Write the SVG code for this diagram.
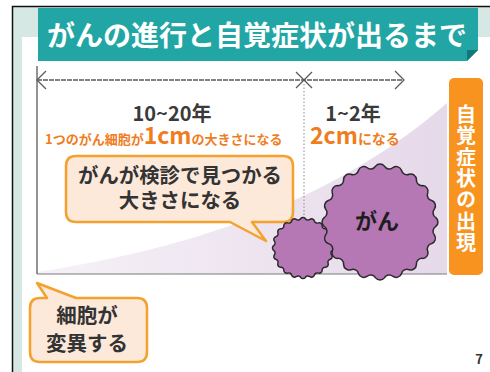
<svg xmlns="http://www.w3.org/2000/svg" xmlns:xlink="http://www.w3.org/1999/xlink" width="490" height="372" viewBox="0 0 490 372">
  <style>
    .jp { font-family: "Noto Sans CJK JP", "Noto Sans", sans-serif; }
    .dark { fill: #3a3a3a; font-weight: bold; }
    .orange { fill: #ef7d1e; font-weight: bold; }
    .callout { fill: #fde9da; stroke: #f4a12e; stroke-width: 2.5; stroke-linejoin: round; }
    .axis { fill: none; stroke: #5a5a5a; stroke-width: 1.3; }
    .blob { fill: #b677b5; stroke: #2a2a2a; }
    .vertical { writing-mode: vertical-rl; letter-spacing: 1.3px; }
  </style>
  <defs>
    <linearGradient id="growth" x1="37" y1="0" x2="447" y2="0" gradientUnits="userSpaceOnUse">
      <stop offset="0" stop-color="#f6f1f7"/>
      <stop offset="1" stop-color="#e6d9ea"/>
    </linearGradient>
    <!-- wavy cell outline, radius ~100 around the origin, 20 soft bumps -->
    <path id="cell" d="M99.39,-7.82
      A10 10 0 0 1 99.39,7.82 A10 10 0 0 0 96.94,23.27
      A10 10 0 0 1 92.10,38.15 A10 10 0 0 0 85.00,52.09
      A10 10 0 0 1 75.81,64.75 A10 10 0 0 0 64.75,75.81
      A10 10 0 0 1 52.09,85.00 A10 10 0 0 0 38.15,92.10
      A10 10 0 0 1 23.27,96.94 A10 10 0 0 0 7.82,99.39
      A10 10 0 0 1 -7.82,99.39 A10 10 0 0 0 -23.27,96.94
      A10 10 0 0 1 -38.15,92.10 A10 10 0 0 0 -52.09,85.00
      A10 10 0 0 1 -64.75,75.81 A10 10 0 0 0 -75.81,64.75
      A10 10 0 0 1 -85.00,52.09 A10 10 0 0 0 -92.10,38.15
      A10 10 0 0 1 -96.94,23.27 A10 10 0 0 0 -99.39,7.82
      A10 10 0 0 1 -99.39,-7.82 A10 10 0 0 0 -96.94,-23.27
      A10 10 0 0 1 -92.10,-38.15 A10 10 0 0 0 -85.00,-52.09
      A10 10 0 0 1 -75.81,-64.75 A10 10 0 0 0 -64.75,-75.81
      A10 10 0 0 1 -52.09,-85.00 A10 10 0 0 0 -38.15,-92.10
      A10 10 0 0 1 -23.27,-96.94 A10 10 0 0 0 -7.82,-99.39
      A10 10 0 0 1 7.82,-99.39 A10 10 0 0 0 23.27,-96.94
      A10 10 0 0 1 38.15,-92.10 A10 10 0 0 0 52.09,-85.00
      A10 10 0 0 1 64.75,-75.81 A10 10 0 0 0 75.81,-64.75
      A10 10 0 0 1 85.00,-52.09 A10 10 0 0 0 92.10,-38.15
      A10 10 0 0 1 96.94,-23.27 A10 10 0 0 0 99.39,-7.82 Z"/>
  </defs>

  <!-- slide frame -->
  <g id="frame">
    <rect x="0" y="0" width="490" height="372" fill="#ffffff"/>
    <rect x="12" y="6" width="478" height="31" fill="#d6e8e3"/>
    <rect x="12" y="6" width="10" height="366" fill="#d6e8e3"/>
    <path d="M12.5,372 V6.5 H490" fill="none" stroke="#111" stroke-width="1.5"/>
  </g>

  <!-- heading banner with folded corner -->
  <g id="title">
    <path d="M38,8 H478 V50 L467,61 H38 Z" fill="#21a6a5"/>
    <path d="M467,50 H478 L467,61 Z" fill="#137877"/>
    <text class="jp" x="257" y="46" text-anchor="middle" font-size="28" font-weight="bold" fill="#ffffff">がんの進行と自覚症状が出るまで</text>
  </g>

  <!-- growth area under the curve -->
  <g id="growth-area">
    <path d="M37,274 L37,272 C250,240 370,170 447,103 L447,274 Z" fill="url(#growth)"/>
    <line x1="37" y1="274" x2="447" y2="274" stroke="#7a7a7a" stroke-width="1"/>
  </g>

  <!-- time axis -->
  <g id="connectors">
    <line x1="37" y1="66" x2="37" y2="274" class="axis"/>
    <line x1="37" y1="80" x2="403" y2="80" class="axis" stroke-dasharray="5 1"/>
    <polyline points="46,71 37,80 46,89" class="axis"/>
    <line x1="296" y1="72" x2="312" y2="88" class="axis"/>
    <line x1="296" y1="88" x2="312" y2="72" class="axis"/>
    <polyline points="395,71 404,80 395,89" class="axis"/>
    <line x1="304" y1="84" x2="304" y2="228" stroke="#8a8a8a" stroke-width="1" stroke-dasharray="1.5 2"/>
  </g>

  <!-- period labels: duration on top, size reached below -->
  <g id="period-long">
    <text class="jp" font-weight="bold"><tspan class="dark" x="172" y="121" text-anchor="middle" font-size="20">10~20年</tspan><tspan class="orange" x="45" y="143.5" font-size="13">1つのがん細胞が</tspan><tspan class="orange" font-size="23">1cm</tspan><tspan class="orange" font-size="13">の大きさになる</tspan></text>
  </g>
  <g id="period-short">
    <text class="jp" font-weight="bold"><tspan class="dark" x="353" y="121" text-anchor="middle" font-size="20">1~2年</tspan><tspan class="orange" x="310" y="143.5" font-size="23">2cm</tspan><tspan class="orange" font-size="14">になる</tspan></text>
  </g>

  <!-- callout: detectable size -->
  <g id="callout-detect">
    <path class="callout" d="M76,156 H283 Q293,156 293,166 V212 Q293,222 283,222 H252 L266,241 L230,222 H76 Q66,222 66,212 V166 Q66,156 76,156 Z"/>
    <text class="jp" text-anchor="middle" font-size="20.4" font-weight="bold" fill="#333"><tspan x="180" y="183">がんが検診で見つかる</tspan><tspan x="180" y="208">大きさになる</tspan></text>
  </g>

  <!-- tumours -->
  <g id="tumour-small">
    <use xlink:href="#cell" class="blob" transform="translate(303,248) scale(0.296)" stroke-width="5"/>
  </g>
  <g id="tumour-large">
    <use xlink:href="#cell" class="blob" transform="translate(380,222) scale(0.562)" stroke-width="2.7"/>
    <text class="jp" x="377" y="229" text-anchor="middle" font-size="22" font-weight="bold" fill="#1e1e1e">がん</text>
  </g>

  <!-- symptom onset label -->
  <g id="symptoms">
    <rect x="449" y="78" width="34" height="197" rx="5" fill="#f7931e"/>
    <text class="jp vertical" x="466" y="179" text-anchor="middle" font-size="20" font-weight="bold" fill="#ffffff">自覚症状の出現</text>
  </g>

  <!-- callout: cell mutation -->
  <g id="callout-mutate">
    <path class="callout" d="M40,298 H47 L37,283 L76,298 H137 Q147,298 147,308 V352 Q147,362 137,362 H40 Q30,362 30,352 V308 Q30,298 40,298 Z"/>
    <text class="jp" text-anchor="middle" font-size="20.5" font-weight="bold" fill="#333"><tspan x="87" y="323">細胞が</tspan><tspan x="87" y="351">変異する</tspan></text>
  </g>

  <text id="page-number" class="jp" x="479" y="364" text-anchor="middle" font-size="13" font-weight="bold" fill="#333">7</text>
</svg>
